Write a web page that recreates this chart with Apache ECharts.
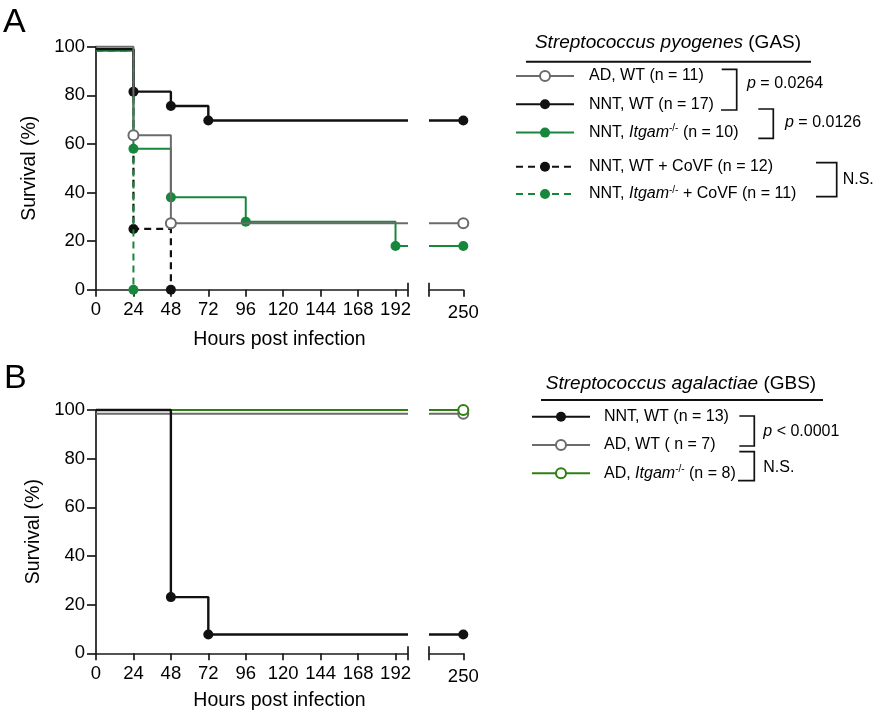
<!DOCTYPE html>
<html><head><meta charset="utf-8">
<script src="https://cdn.jsdelivr.net/npm/echarts@6/dist/echarts.min.js"></script>
<style>html,body{margin:0;padding:0;background:#fff}#c{width:878px;height:716px}</style>
</head><body><div id="c"></div>
<script>
// ================= DATA =================
const xTicksLeft = [0, 24, 48, 72, 96, 120, 144, 168, 192];
const xTicksRight = [250];
const yTicks = [0, 20, 40, 60, 80, 100];
const axisBreakStart = 200;   // left segment ends
const axisBreakEnd = 228;     // right segment begins
const followUpEnd = 250;

// Panel A: Streptococcus pyogenes (GAS) — [hour, survival %]
const gasAdWt          = [[0, 100], [24, 63.6], [48, 27.3]];
const gasNntWt         = [[0, 99], [24, 81.5], [48, 75.6], [72, 69.6]];
const gasNntItgam      = [[0, 98.3], [24, 58], [48, 38], [96, 28], [192, 18]];
const gasNntWtCovf     = [[0, 99], [24, 25], [48, 0]];
const gasNntItgamCovf  = [[0, 98.3], [24, 0]];

// Panel B: Streptococcus agalactiae (GBS)
const gbsNntWt   = [[0, 100], [48, 23.1], [72, 7.7]];
const gbsAdWt    = [[0, 98.5]];
const gbsAdItgam = [[0, 100]];

const namesA = ['AD, WT (n = 11)', 'NNT, WT (n = 17)', 'NNT, Itgam-/- (n = 10)',
                'NNT, WT + CoVF (n = 12)', 'NNT, Itgam-/- + CoVF (n = 11)'];
const namesB = ['NNT, WT (n = 13)', 'AD, WT ( n = 7)', 'AD, Itgam-/- (n = 8)'];
const pValuesA = ['0.0264', '0.0126'];
const pValueB = '< 0.0001';

// ================= STYLE =================
const FONT = '"Liberation Sans", Arial, Helvetica, sans-serif';
const BLACK = '#111111', GREY = '#6b6b6b', GREEN_A = '#17873b', GREEN_B = '#2f7f10';
const AX = '#1a1a1a';

const gridA = {top: 46.7, height: 243};
const gridB = {top: 410, height: 243.3};
const grids = [
  {left: 96, width: 312, top: gridA.top, height: gridA.height},
  {left: 429, width: 34.3, top: gridA.top, height: gridA.height},
  {left: 96, width: 312, top: gridB.top, height: gridB.height},
  {left: 429, width: 34.3, top: gridB.top, height: gridB.height}
];

function mainLeftX(gi, nameGap) {
  return {gridIndex: gi, type: 'value', min: 0, max: axisBreakStart, position: 'bottom',
    axisLine: {show: true, onZero: false, lineStyle: {color: AX, width: 1.7}},
    axisTick: {show: true, length: 7, customValues: xTicksLeft.concat([axisBreakStart]), lineStyle: {color: AX, width: 1.7}},
    axisLabel: {show: true, customValues: xTicksLeft, color: '#000', fontSize: 18.5, fontFamily: FONT, margin: 11},
    splitLine: {show: false},
    name: 'Hours post infection', nameLocation: 'middle', nameGap: nameGap,
    nameTextStyle: {color: '#000', fontSize: 19.5, fontFamily: FONT, padding: [0, 0, 0, 55]}};
}
function breakX(gi, min, max, v) {
  return {gridIndex: gi, type: 'value', min: min, max: max, position: 'bottom',
    axisLine: {show: false}, axisLabel: {show: false}, splitLine: {show: false},
    axisTick: {show: true, inside: true, length: 7, customValues: [v], lineStyle: {color: AX, width: 1.7}}};
}
function mainRightX(gi) {
  return {gridIndex: gi, type: 'value', min: axisBreakEnd, max: followUpEnd, position: 'bottom',
    axisLine: {show: true, onZero: false, lineStyle: {color: AX, width: 1.7}},
    axisTick: {show: true, length: 7, customValues: [axisBreakEnd].concat(xTicksRight), lineStyle: {color: AX, width: 1.7}},
    axisLabel: {show: true, customValues: xTicksRight, color: '#000', fontSize: 18.5, fontFamily: FONT, margin: 14},
    splitLine: {show: false}};
}
function mainY(gi, nameGap) {
  return {gridIndex: gi, type: 'value', min: 0, max: 100, interval: 20,
    axisLine: {show: true, onZero: false, lineStyle: {color: AX, width: 1.7}},
    axisTick: {show: true, length: 9, lineStyle: {color: AX, width: 1.7}},
    axisLabel: {color: '#000', fontSize: 18.5, fontFamily: FONT, margin: 11,
      customValues: yTicks},
    splitLine: {show: false},
    name: 'Survival (%)', nameLocation: 'middle', nameRotate: 90, nameGap: nameGap,
    nameTextStyle: {color: '#000', fontSize: 19.5, fontFamily: FONT}};
}
function hiddenY(gi) {
  return {gridIndex: gi, type: 'value', min: 0, max: 100, show: false};
}

const xAxes = [
  mainLeftX(0, 40), breakX(0, 0, axisBreakStart, axisBreakStart),
  mainRightX(1), breakX(1, axisBreakEnd, followUpEnd, axisBreakEnd),
  mainLeftX(2, 37), breakX(2, 0, axisBreakStart, axisBreakStart),
  mainRightX(3), breakX(3, axisBreakEnd, followUpEnd, axisBreakEnd)
];
const yAxes = [mainY(0, 56), hiddenY(1), mainY(2, 52), hiddenY(3)];

// panel: 0 => A, 1 => B
function km(name, pts, color, opts, panel) {
  const last = pts[pts.length - 1][1];
  const extend = last > 0;
  const left = pts.map((p, i) => i === 0 ? {value: p, symbol: 'none'} : {value: p});
  if (extend) left.push({value: [axisBreakStart, last], symbol: 'none'});
  const base = {
    name: name, type: 'line', step: 'end', clip: false, animation: false,
    symbol: opts.open ? 'emptyCircle' : 'circle', symbolSize: 10, showSymbol: true,
    lineStyle: {color: color, width: opts.width || 2, type: opts.dash ? [7, 5] : 'solid'},
    itemStyle: {color: color, borderWidth: opts.open ? 1.8 : 0},
    emphasis: {disabled: true}, z: opts.z || 2
  };
  const out = [Object.assign({}, base, {xAxisIndex: panel * 4, yAxisIndex: panel * 2, data: left})];
  if (extend) {
    out.push(Object.assign({}, base, {xAxisIndex: panel * 4 + 2, yAxisIndex: panel * 2 + 1,
      data: [{value: [axisBreakEnd, last], symbol: 'none'}, {value: [followUpEnd, last]}]}));
  }
  return out;
}

const series = [].concat(
  km(namesA[3], gasNntWtCovf, BLACK, {dash: true, width: 2.2, z: 2}, 0),
  km(namesA[4], gasNntItgamCovf, GREEN_A, {dash: true, width: 2, z: 3}, 0),
  km(namesA[2], gasNntItgam, GREEN_A, {width: 2, z: 4}, 0),
  km(namesA[1], gasNntWt, BLACK, {width: 2.4, z: 5}, 0),
  km(namesA[0], gasAdWt, GREY, {open: true, width: 2, z: 6}, 0),
  km(namesB[1], gbsAdWt, GREY, {open: true, width: 2, z: 2}, 1),
  km(namesB[2], gbsAdItgam, GREEN_B, {open: true, width: 2, z: 3}, 1),
  km(namesB[0], gbsNntWt, BLACK, {width: 2.4, z: 4}, 1)
);

const rich = {
  it: {fontStyle: 'italic', fontSize: 16, fontFamily: FONT, color: '#000', lineHeight: 18},
  sup: {fontSize: 10, fontFamily: FONT, color: '#000', lineHeight: 18, verticalAlign: 'top', padding: [0, 0, 0, 0]},
  n: {fontSize: 16, fontFamily: FONT, color: '#000', lineHeight: 18}
};
function fmt(name) {
  const parts = name.split('Itgam-/-');
  if (parts.length === 1) return '{n|' + name + '}';
  return '{n|' + parts[0] + '}{it|Itgam}{sup|-/-}{n|' + parts[1] + '}';
}
function legend(data, left, top, gap, padLeft) {
  return {data: data, orient: 'vertical', left: left, top: top, itemWidth: 58, itemHeight: 12.5,
    itemGap: gap, selectedMode: false, formatter: fmt, padding: 0,
    lineStyle: {width: 2},
    textStyle: {fontSize: 16, fontFamily: FONT, color: '#000', lineHeight: 18, padding: [0, 0, 0, padLeft], rich: rich}};
}

function txt(x, y, text, size, align, extraRich) {
  return {type: 'text', silent: true, style: {x: x, y: y, text: text, fontSize: size, fontFamily: FONT, fill: '#000',
    textAlign: align || 'left', align: align || 'left', textVerticalAlign: 'middle', verticalAlign: 'middle',
    rich: extraRich || {}}};
}
function pl(points) {
  return {type: 'polyline', silent: true, shape: {points: points}, style: {stroke: '#111', lineWidth: 1.7, fill: null}};
}
function ln(x1, y1, x2, y2) {
  return {type: 'line', silent: true, shape: {x1: x1, y1: y1, x2: x2, y2: y2}, style: {stroke: '#111', lineWidth: 2}};
}
const richTitle = {i: {fontStyle: 'italic', fontSize: 19, fontFamily: FONT, fill: '#000'}};
const richP = {i: {fontStyle: 'italic', fontSize: 16, fontFamily: FONT, fill: '#000'}};

const graphic = [
  txt(3, 23, 'A', 34, 'left'),
  txt(4, 379, 'B', 34, 'left'),
  txt(668, 43, '{i|Streptococcus pyogenes} (GAS)', 19, 'center', richTitle),
  ln(526, 61.7, 811, 61.7),
  txt(681, 384, '{i|Streptococcus agalactiae} (GBS)', 19, 'center', richTitle),
  ln(541, 400, 823, 400),
  pl([[721.7, 69.3], [736.7, 69.3], [736.7, 110], [721, 110]]),
  txt(747, 83.5, '{i|p} = ' + pValuesA[0], 16, 'left', richP),
  pl([[758.3, 109], [773.3, 109], [773.3, 138.3], [758.3, 138.3]]),
  txt(785, 122.7, '{i|p} = ' + pValuesA[1], 16, 'left', richP),
  pl([[816, 162.7], [836.7, 162.7], [836.7, 196.7], [816, 196.7]]),
  txt(842.7, 180, 'N.S.', 16, 'left'),
  pl([[739.3, 416], [754.3, 416], [754.3, 446], [739.3, 446]]),
  txt(763.3, 431.7, '{i|p} ' + pValueB, 16, 'left', richP),
  pl([[739.3, 451.7], [754.3, 451.7], [754.3, 480.7], [738, 480.7]]),
  txt(763.3, 467.3, 'N.S.', 16, 'left')
];

const chart = echarts.init(document.getElementById('c'), null, {renderer: 'canvas'});
chart.setOption({
  animation: false,
  backgroundColor: '#fff',
  grid: grids,
  xAxis: xAxes,
  yAxis: yAxes,
  legend: [
    legend(namesA.slice(0, 3), 515, 67, 10.3, 10),
    legend(namesA.slice(3, 5), 515, 157.7, 9.3, 10),
    legend(namesB, 531, 407.7, 10.3, 9)
  ],
  series: series,
  graphic: graphic
});
</script></body></html>
